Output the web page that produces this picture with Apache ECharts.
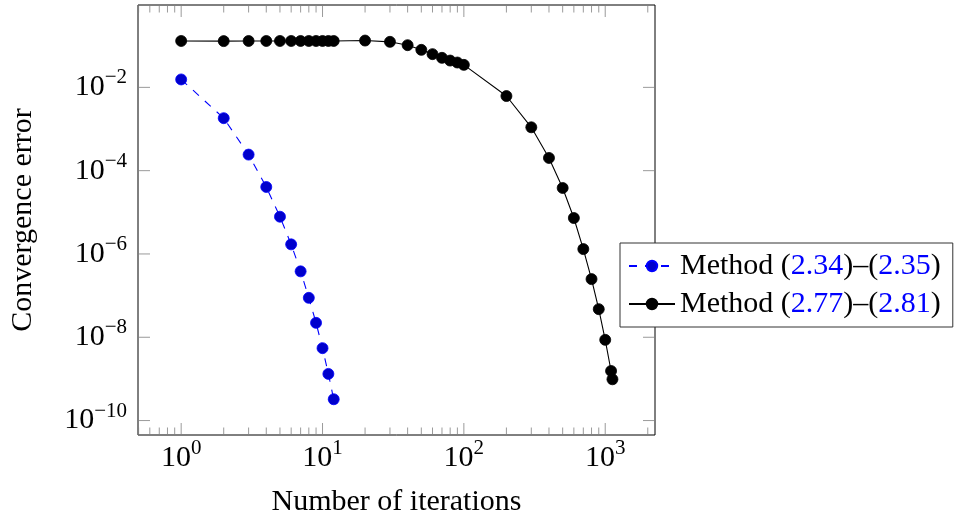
<!DOCTYPE html>
<html><head><meta charset="utf-8">
<script src="https://cdn.jsdelivr.net/npm/echarts@6/dist/echarts.min.js"></script>
<style>html,body{margin:0;padding:0;background:#fff}#c{width:960px;height:516px}</style>
</head><body><div id="c"></div>
<script>
const seriesNames = ['Method (2.34)–(2.35)', 'Method (2.77)–(2.81)'];
const blueX = [1,2,3,4,5,6,7,8,9,10,11,12];
const blueY = [1.55e-2,1.82e-3,2.43e-4,4.06e-5,7.84e-6,1.7e-6,3.82e-7,8.85e-8,2.22e-8,5.47e-9,1.32e-9,3.25e-10];
const blackX = [1,2,3,4,5,6,7,8,9,10,11,12,20,30,40,50,60,70,80,90,100,200,300,400,500,600,700,800,900,1000,1100,1125];
const blackY = [0.13,0.129,0.13,0.13,0.13,0.13,0.13,0.13,0.13,0.13,0.13,0.13,0.133,0.124,0.103,0.0796,0.0628,0.0512,0.044,0.0395,0.0347,0.0062,0.0011,2.02e-4,3.84e-5,7.3e-6,1.31e-6,2.49e-7,4.73e-8,8.67e-9,1.55e-9,9.8e-10];
const xMajorTicks = [1,10,100,1000];
const xMinorTicks = [0.5,0.6,0.7,0.8,0.9,2,3,4,5,6,7,8,9,20,30,40,50,60,70,80,90,200,300,400,500,600,700,800,900,2000];
const yMajorTicks = [1e-10,1e-8,1e-6,1e-4,1e-2];
const xRange = [0.495, 2250];
const yRange = [4.5e-11, 0.95];
const xTitle = 'Number of iterations';
const yTitle = 'Convergence error';

const FONT = 'Liberation Serif';
const TICK = '#808080';
function pow10Label(v) {
  const l = Math.log10(v), e = Math.round(l);
  if (Math.abs(l - e) > 1e-6) return '';
  return '{b|10}{s|' + String(e).replace('-', '\u2212') + '}';
}
const richLabel = {
  b: {fontFamily: FONT, fontSize: 30, color: '#000', verticalAlign: 'bottom', lineHeight: 30},
  s: {fontFamily: FONT, fontSize: 21, color: '#000', verticalAlign: 'bottom', lineHeight: 21, padding: [0,0,14,0]}
};
const chart = echarts.init(document.getElementById('c'));
const tickStyle = {stroke: TICK, lineWidth: 0.8};
chart.setOption({
  animation: false,
  grid: {left: 138, right: 305, top: 5, bottom: 81, show: true, borderColor: '#000', borderWidth: 1,
    backgroundColor: 'transparent', containLabel: false, outerBoundsMode: 'none'},
  xAxis: {
    type: 'log', min: xRange[0], max: xRange[1],
    axisLine: {show: false}, axisTick: {show: false}, splitLine: {show: false}, minorTick: {show: false},
    axisLabel: {margin: 8, showMinLabel: false, showMaxLabel: false, formatter: v => pow10Label(v), rich: richLabel},
    name: xTitle, nameLocation: 'middle', nameGap: 52,
    nameTextStyle: {fontFamily: FONT, fontSize: 30, color: '#000'}
  },
  yAxis: {
    type: 'log', min: yRange[0], max: yRange[1],
    axisLine: {show: false}, axisTick: {show: false}, splitLine: {show: false},
    axisLabel: {show: false},
    name: yTitle, nameLocation: 'middle', nameGap: 100,
    nameTextStyle: {fontFamily: FONT, fontSize: 30, color: '#000'}
  },
  legend: {
    data: seriesNames, orient: 'vertical', left: 620, top: 243,
    padding: [7, 12, 7, 8], itemGap: 6, itemWidth: 46, itemHeight: 13,
    borderColor: '#333', borderWidth: 1, backgroundColor: '#fff',
    textStyle: {fontFamily: FONT, fontSize: 30, color: '#000', lineHeight: 32,
      rich: {n: {fontFamily: FONT, fontSize: 30, color: '#0000FF', lineHeight: 32}}},
    formatter: name => name.replace(/(\d+\.\d+)/g, '{n|$1}')
  },
  series: [
    {name: seriesNames[0], type: 'line', data: blueX.map((x, i) => [x, blueY[i]]),
      symbol: 'circle', symbolSize: 11,
      lineStyle: {color: '#0000FF', width: 1.1, type: [8, 8]},
      itemStyle: {color: '#0000CC', borderColor: '#0000FF', borderWidth: 0.8}, z: 3},
    {name: seriesNames[1], type: 'line', data: blackX.map((x, i) => [x, blackY[i]]),
      symbol: 'circle', symbolSize: 11,
      lineStyle: {color: '#000', width: 1.1},
      itemStyle: {color: '#000', borderColor: '#000', borderWidth: 0.8}, z: 3},
    {type: 'custom', silent: true, z: 1, clip: false,
      data: xMajorTicks.map(v => [v, 1e-5, 1]).concat(xMinorTicks.map(v => [v, 1e-5, 0])),
      renderItem: (params, api) => {
        const cs = params.coordSys;
        const x = api.coord([api.value(0), api.value(1)])[0];
        const len = api.value(2) ? 12 : 7.5;
        const b = cs.y + cs.height, t = cs.y;
        return {type: 'group', children: [
          {type: 'line', shape: {x1: x, y1: b, x2: x, y2: b - len}, style: tickStyle},
          {type: 'line', shape: {x1: x, y1: t, x2: x, y2: t + len}, style: tickStyle}
        ]};
      }},
    {type: 'custom', silent: true, z: 1, clip: false,
      data: yMajorTicks.map(v => [10, v, 1]),
      renderItem: (params, api) => {
        const cs = params.coordSys;
        const val = api.value(1);
        const y = api.coord([api.value(0), val])[1];
        const len = 12;
        const l = cs.x, r = cs.x + cs.width;
        return {type: 'group', children: [
          {type: 'line', shape: {x1: l, y1: y, x2: l + len, y2: y}, style: tickStyle},
          {type: 'line', shape: {x1: r, y1: y, x2: r - len, y2: y}, style: tickStyle},
          {type: 'text', x: l - 11, y: y, style: {text: pow10Label(val), rich: richLabel, align: 'right', verticalAlign: 'middle'}}
        ]};
      }}
  ]
});
</script></body></html>
